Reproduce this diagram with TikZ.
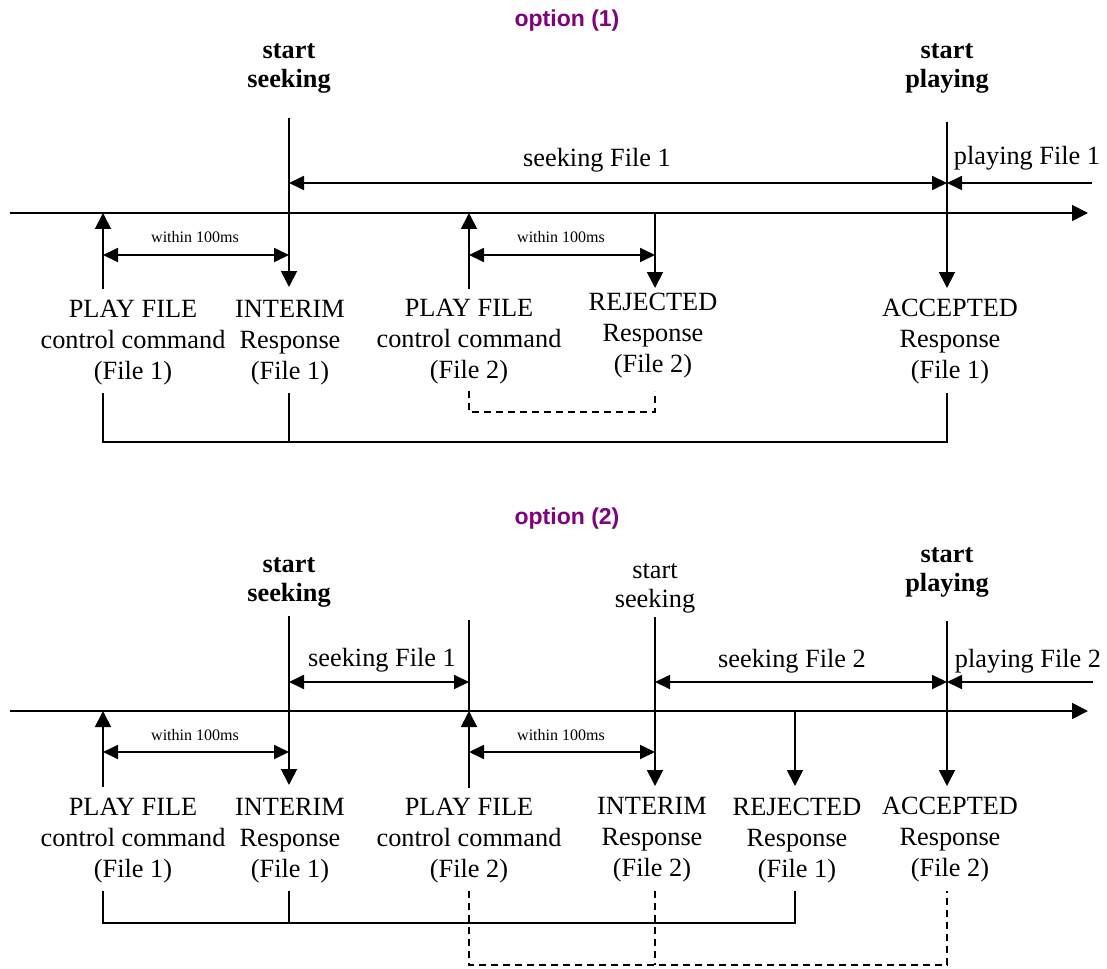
\documentclass[tikz,border=0pt]{standalone}
\usepackage{fontspec}
\setmainfont{Liberation Serif}
\newfontfamily\optfont{Liberation Sans}
\usetikzlibrary{arrows.meta}
\definecolor{optpurple}{RGB}{128,0,128}
\begin{document}
\begin{tikzpicture}[x=1pt,y=-1pt,
  ln/.style={line width=1.8pt},
  dsh/.style={line width=1.5pt, dash pattern=on 7pt off 5pt},
  tip/.style={ln,-{Triangle[length=16pt,width=16pt]}},
  ltip/.style={ln,-{Triangle[length=15pt,width=14pt]}},
  dbl/.style={ln,{Triangle[length=15pt,width=14pt]}-{Triangle[length=15pt,width=14pt]}},
  lbl/.style={font=\fontsize{26.3}{31}\selectfont, align=center, anchor=north, inner sep=0pt},
  hdb/.style={font=\fontsize{26.3}{29.5}\selectfont\bfseries, align=center, anchor=north, inner sep=0pt},
  hdn/.style={font=\fontsize{26.3}{29.5}\selectfont, align=center, anchor=north, inner sep=0pt},
  span/.style={font=\fontsize{26.3}{31}\selectfont, anchor=base, inner sep=0pt},
  small/.style={font=\fontsize{16}{19}\selectfont, anchor=base, inner sep=0pt},
  opt/.style={font=\fontsize{23}{27}\selectfont\optfont\bfseries, text=optpurple, anchor=base, inner sep=0pt}]
\useasboundingbox (0,0) rectangle (1107,968);

% ================= option (1) =================
\node[opt] (o1) at (567,27) {option (1)};
\node[hdb] (ss1) at (289,43) {start\\seeking};
\node[hdb] (sp1) at (947,43) {start\\playing};

% timeline
\coordinate (t1s) at (10,213);
\coordinate (t1e) at (1088,213);
\draw[tip] (t1s) -- (t1e);

% key coordinates
\coordinate (a1top) at (103,213);  \coordinate (a1bot) at (103,289);
\coordinate (b1top) at (289,118);  \coordinate (b1bot) at (289,287);
\coordinate (c1top) at (469,213);  \coordinate (c1bot) at (469,289);
\coordinate (d1top) at (655,213);  \coordinate (d1bot) at (655,288);
\coordinate (e1top) at (947,122);  \coordinate (e1bot) at (947,288);

\draw[tip] (a1bot) -- (a1top);
\draw[tip] (b1top) -- (b1bot);
\draw[tip] (c1bot) -- (c1top);
\draw[tip] (d1top) -- (d1bot);
\draw[tip] (e1top) -- (e1bot);

% spans
\coordinate (s1a) at (289,183); \coordinate (s1b) at (947,183); \coordinate (s1c) at (1092,183);
\draw[dbl] (s1a) -- (s1b);
\draw[ltip] (s1c) -- (s1b);
\node[span] (sf1) at (597,167) {seeking File 1};
\node[span] (pf1) at (1027,165) {playing File 1};

\coordinate (w1a) at (103,255); \coordinate (w1b) at (289,255);
\coordinate (w1c) at (469,255); \coordinate (w1d) at (655,255);
\draw[dbl] (w1a) -- (w1b);
\draw[dbl] (w1c) -- (w1d);
\node[small] (wt1a) at (195,242) {within 100ms};
\node[small] (wt1b) at (561,242) {within 100ms};

% labels
\node[lbl] (pc1) at (133,300) {PLAY FILE\\control command\\(File 1)};
\node[lbl] (ir1) at (290,300) {INTERIM\\Response\\(File 1)};
\node[lbl] (pc2) at (469,299) {PLAY FILE\\control command\\(File 2)};
\node[lbl] (rj2) at (653,293) {REJECTED\\Response\\(File 2)};
\node[lbl] (ac1) at (950,299) {ACCEPTED\\Response\\(File 1)};

% brackets
\coordinate (k1a) at (103,393); \coordinate (k1b) at (289,393); \coordinate (k1e) at (947,393);
\draw[ln] (k1a) -- (103,442) -- (947,442) -- (k1e);
\draw[ln] (k1b) -- (289,442);
\coordinate (q1c) at (469,391); \coordinate (q1d) at (655,391);
\draw[dsh] (q1c) -- (469,412) -- (655,412) -- (q1d);

% ================= option (2) =================
\node[opt] (o2) at (567,524) {option (2)};
\node[hdb] (ss2) at (289,557) {start\\seeking};
\node[hdn] (ss3) at (655,563) {start\\seeking};
\node[hdb] (sp2) at (947,547) {start\\playing};

\coordinate (t2s) at (10,711);
\coordinate (t2e) at (1088,711);
\draw[tip] (t2s) -- (t2e);

\coordinate (a2top) at (103,711);  \coordinate (a2bot) at (103,787);
\coordinate (b2top) at (289,616);  \coordinate (b2bot) at (289,785);
\coordinate (c2top) at (469,620);  \coordinate (c2mid) at (469,711); \coordinate (c2bot) at (469,788);
\coordinate (d2top) at (655,617);  \coordinate (d2bot) at (655,786);
\coordinate (f2top) at (795,711);  \coordinate (f2bot) at (795,786);
\coordinate (e2top) at (947,621);  \coordinate (e2bot) at (947,786);

\draw[tip] (a2bot) -- (a2top);
\draw[tip] (b2top) -- (b2bot);
\draw[ln] (c2top) -- (c2mid);
\draw[tip] (c2bot) -- (c2mid);
\draw[tip] (d2top) -- (d2bot);
\draw[tip] (f2top) -- (f2bot);
\draw[tip] (e2top) -- (e2bot);

\coordinate (s2a) at (289,682); \coordinate (s2b) at (469,682);
\coordinate (s2c) at (655,682); \coordinate (s2d) at (947,682); \coordinate (s2e) at (1093,682);
\draw[dbl] (s2a) -- (s2b);
\draw[dbl] (s2c) -- (s2d);
\draw[ltip] (s2e) -- (s2d);
\node[span] (sf2a) at (382,666) {seeking File 1};
\node[span] (sf2b) at (792,667) {seeking File 2};
\node[span] (pf2) at (1028,667) {playing File 2};

\coordinate (w2a) at (103,752); \coordinate (w2b) at (289,752);
\coordinate (w2c) at (469,752); \coordinate (w2d) at (655,752);
\draw[dbl] (w2a) -- (w2b);
\draw[dbl] (w2c) -- (w2d);
\node[small] (wt2a) at (195,740) {within 100ms};
\node[small] (wt2b) at (561,740) {within 100ms};

\node[lbl] (pc3) at (133,798) {PLAY FILE\\control command\\(File 1)};
\node[lbl] (ir3) at (290,798) {INTERIM\\Response\\(File 1)};
\node[lbl] (pc4) at (469,798) {PLAY FILE\\control command\\(File 2)};
\node[lbl] (ir4) at (652,797) {INTERIM\\Response\\(File 2)};
\node[lbl] (rj3) at (797,798) {REJECTED\\Response\\(File 1)};
\node[lbl] (ac2) at (950,797) {ACCEPTED\\Response\\(File 2)};

\coordinate (k2a) at (103,891); \coordinate (k2b) at (289,891); \coordinate (k2f) at (795,891);
\draw[ln] (k2a) -- (103,923) -- (795,923) -- (k2f);
\draw[ln] (k2b) -- (289,923);
\coordinate (q2c) at (469,891); \coordinate (q2d) at (655,891); \coordinate (q2e) at (947,891);
\draw[dsh] (q2c) -- (469,965) -- (947,965) -- (q2e);
\draw[dsh] (q2d) -- (655,965);
\end{tikzpicture}
\end{document}
